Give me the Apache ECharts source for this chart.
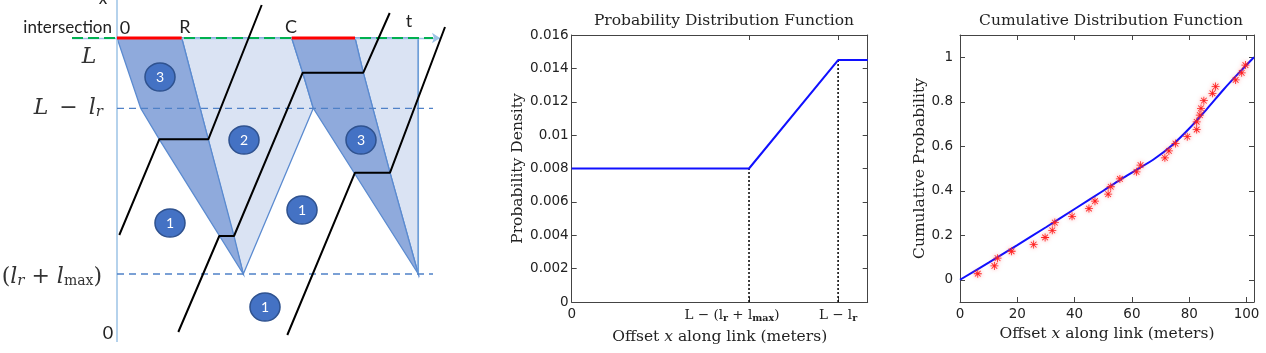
<!DOCTYPE html>
<html><head><meta charset="utf-8">
<script src="https://cdn.jsdelivr.net/npm/echarts@6/dist/echarts.min.js"></script>
<style>html,body{margin:0;background:#fff}#c{width:1266px;height:353px}</style>
</head><body><div id="c"></div>
<script>
// ---- left sketch (time t across, position along link up; sketch units) ----
const redPhases = [[0, 64.7], [174.7, 238]];
const lightZones = [
  [[64.7, 297], [174.7, 297], [185.7, 262.3], [196.3, 226.7], [126.3, 61]],
  [[238, 297], [301.3, 297], [301.3, 61], [273, 162.3], [246.3, 262.3]]
];
const darkZones = [
  [[0, 297], [64.7, 297], [91.3, 195.7], [42.3, 195.7], [23.7, 226.7]],
  [[42.3, 195.7], [91.3, 195.7], [117, 99], [126.3, 61]],
  [[174.7, 297], [238, 297], [246.3, 262.3], [185.7, 262.3]],
  [[185.7, 262.3], [246.3, 262.3], [273, 162.3], [301.3, 61], [196.3, 226.7]]
];
const vehicles = [
  [[2.3, 100], [42.3, 195.7], [91.3, 195.7], [144.7, 330]],
  [[61.3, 3], [102.3, 99], [117, 99], [185.7, 262.3], [246.3, 262.3], [272.7, 322]],
  [[170.3, 0], [238, 162.3], [273, 162.3], [328, 308]]
];
const zoneTags = [[43, 258, 3], [127, 195, 2], [244, 195, 3], [53, 112, 1], [185, 125, 1], [148, 28, 1]];
const levelL = 297, levelLlr = 226.7, levelQ = 61, tEnd = 301.3;

// ---- PDF ----
const pdfX = [0, 61.7, 92.7, 103];
const pdfY = [0.008, 0.008, 0.0145, 0.0145];
const pdfTicks = [0, 61.7, 92.7];

// ---- CDF ----
const fitX = [0, 10, 20, 30, 40, 50, 56, 62, 68, 74, 80, 86, 92, 97, 102.6];
const fitY = [0, 0.077, 0.156, 0.236, 0.318, 0.4, 0.45, 0.497, 0.545, 0.605, 0.68, 0.765, 0.855, 0.925, 1.0];
const obsX = [6.2, 12.0, 13.1, 18.0, 25.7, 29.7, 32.2, 33.1, 39.1, 45.0, 47.1, 51.7, 52.6, 55.8, 61.6,
  63.0, 71.5, 72.9, 75.2, 79.3, 82.6, 82.6, 83.7, 84.1, 85.1, 88.1, 89.2, 96.2, 98.3, 99.6];
const obsY = [0.027, 0.062, 0.097, 0.128, 0.158, 0.19, 0.222, 0.257, 0.285, 0.32, 0.353, 0.385, 0.418, 0.453, 0.485,
  0.515, 0.548, 0.579, 0.612, 0.643, 0.675, 0.71, 0.74, 0.77, 0.805, 0.838, 0.868, 0.898, 0.93, 0.965];
const cdfXTicks = [0, 20, 40, 60, 80, 100];
const cdfYTicks = [0, 0.2, 0.4, 0.6, 0.8, 1];

const zip = (a, b) => a.map((v, i) => [v, b[i]]);
const INK = '#222', AX = '#444';
const SERIF = 'DejaVu Serif', SANS = 'DejaVu Sans';

const chart = echarts.init(document.getElementById('c'), null, { renderer: 'canvas' });

const polySeries = (zones, fill, z) => ({
  type: 'custom', xAxisIndex: 0, yAxisIndex: 0, z, silent: true,
  data: zones.map((_, i) => [i]),
  renderItem: (params, api) => ({
    type: 'polygon',
    shape: { points: zones[params.dataIndex].map(p => api.coord(p)) },
    style: { fill, stroke: '#5b8bd0', lineWidth: 1.3 }
  })
});
const seg = (pts, color, width, type, z) => ({
  type: 'line', xAxisIndex: 0, yAxisIndex: 0, data: pts, showSymbol: false, symbol: 'none', z, silent: true,
  lineStyle: { color, width, type }
});

const subRich = {
  n: { fontFamily: SERIF, fontSize: 13.5, color: INK },
  e: { fontFamily: SERIF, fontSize: 13.5, color: INK, padding: [0, 34, 0, 0] },
  s: { fontFamily: SERIF, fontSize: 9.5, color: INK, fontWeight: 'bold', padding: [7, 0, 0, 0] },
  d: { fontFamily: SANS, fontSize: 13.5, color: INK }
};
const nameRich = {
  n: { fontFamily: SERIF, fontSize: 15.5, color: INK },
  i: { fontFamily: SERIF, fontSize: 15.5, fontStyle: 'italic', color: INK }
};
const xName = '{n|Offset }{i|x}{n| along link (meters)}';

const boxAxis = (grid, pos, min, max, ticks) => ({
  gridIndex: grid, type: 'value', position: pos, min, max,
  axisLine: { show: true, onZero: false, lineStyle: { color: AX, width: 1 } },
  axisTick: { show: true, inside: true, length: 5, customValues: ticks, lineStyle: { color: AX } },
  axisLabel: { show: false }, splitLine: { show: false }
});

const star = 'path://M9,0h2v20h-2zM0,9h20v2h-20zM2.2,3.6L3.6,2.2L17.8,16.4L16.4,17.8zM16.4,2.2L17.8,3.6L3.6,17.8L2.2,16.4z';

const txt = (x, y, text, font, align, extra) => ({
  type: 'text', x, y, silent: true, z: 100,
  style: Object.assign({ text, font, fill: INK, align: align || 'center', verticalAlign: 'middle' }, extra || {})
});
const latexRich = {
  i: { fontFamily: SERIF, fontStyle: 'italic', fontSize: 22, fill: '#333' },
  u: { fontFamily: SERIF, fontSize: 22, fill: '#333' },
  g: { fontFamily: SERIF, fontSize: 22, fill: '#333', width: 11 },
  s: { fontFamily: SERIF, fontStyle: 'italic', fontSize: 15, fill: '#333', padding: [9, 0, 0, 0] },
  m: { fontFamily: SERIF, fontSize: 14, fill: '#333', padding: [9, 0, 0, 0] }
};

chart.setOption({
  animation: false,
  backgroundColor: '#fff',
  grid: [
    { left: 0, top: 0, width: 450, height: 353 },
    { left: 571.7, top: 35, width: 296, height: 267 },
    { left: 960, top: 35, width: 294, height: 267 }
  ],
  xAxis: [
    { gridIndex: 0, type: 'value', min: -117, max: 333, show: false },
    Object.assign(boxAxis(1, 'bottom', 0, 103, pdfTicks), {
      axisLabel: {
        show: true, customValues: pdfTicks, margin: 5, rich: subRich,
        formatter: v => v < 1 ? '{d|0}' : v < 70 ? '{n|L − (l}{s|r}{n| + l}{s|max}{e|)}' : '{n|L − l}{s|r}'
      },
      name: xName, nameLocation: 'middle', nameGap: 20, nameTextStyle: { rich: nameRich }
    }),
    boxAxis(1, 'top', 0, 103, pdfTicks),
    Object.assign(boxAxis(2, 'bottom', 0, 102.6, cdfXTicks), {
      axisLabel: { show: true, customValues: cdfXTicks, margin: 5, fontFamily: SANS, fontSize: 13.5, color: INK },
      name: xName, nameLocation: 'middle', nameGap: 20, nameTextStyle: { rich: nameRich }
    }),
    boxAxis(2, 'top', 0, 102.6, cdfXTicks)
  ],
  yAxis: [
    { gridIndex: 0, type: 'value', min: -18, max: 335, show: false },
    Object.assign(boxAxis(1, 'left', 0, 0.016, null), {
      interval: 0.002,
      axisLabel: { show: true, margin: 3, fontFamily: SANS, fontSize: 13.5, color: INK },
      name: 'Probability Density', nameLocation: 'middle', nameGap: 44,
      nameTextStyle: { fontFamily: SERIF, fontSize: 15.5, color: INK }
    }),
    Object.assign(boxAxis(1, 'right', 0, 0.016, null), { interval: 0.002 }),
    Object.assign(boxAxis(2, 'left', -0.1, 1.1, cdfYTicks), {
      axisLabel: { show: true, customValues: cdfYTicks, margin: 7, fontFamily: SANS, fontSize: 13.5, color: INK },
      name: 'Cumulative Probability', nameLocation: 'middle', nameGap: 32,
      nameTextStyle: { fontFamily: SERIF, fontSize: 15.5, color: INK }
    }),
    boxAxis(2, 'right', -0.1, 1.1, cdfYTicks)
  ],
  graphic: [
    txt(724, 21, 'Probability Distribution Function', '15.5px "DejaVu Serif"'),
    txt(1111, 21, 'Cumulative Distribution Function', '15.5px "DejaVu Serif"'),
    txt(103, -1, 'x', '17px Lato'),
    txt(112, 28, 'intersection', '17px Lato', 'right'),
    txt(125, 28, '0', '18px Lato'),
    txt(185, 27, 'R', '18px Lato'),
    txt(291, 27, 'C', '18px Lato'),
    txt(409, 21, 't', '18px Lato'),
    txt(108, 333, '0', '18px Lato'),
    txt(89, 57, '{i|L}', '', 'center', { rich: latexRich }),
    txt(103, 108, '{i|L}{g| }{u|−}{g| }{i|l}{s|r}', '', 'right', { rich: latexRich }),
    txt(102, 277, '{u|(}{i|l}{s|r}{u| + }{i|l}{m|max}{u|)}', '', 'right', { rich: latexRich })
  ],
  series: [
    polySeries(lightZones, '#dae3f3', 1),
    polySeries(darkZones, '#8faadc', 2),
    seg([[0, -7], [0, 335]], '#9dc3e6', 1.5, 'solid', 3),
    seg([[tEnd, levelL], [tEnd, levelQ]], '#6f9fd8', 1.5, 'solid', 3),
    seg([[0, levelLlr], [316, levelLlr]], '#4f81c7', 1.3, [7, 5], 4),
    seg([[0, levelQ], [316, levelQ]], '#4f81c7', 1.3, [7, 5], 4),
    {
      type: 'lines', coordinateSystem: 'cartesian2d', xAxisIndex: 0, yAxisIndex: 0, z: 4, silent: true,
      symbol: ['none', 'arrow'], symbolSize: 8,
      lineStyle: { color: '#9dc3e6', width: 1.3, opacity: 1 },
      data: [{ coords: [[-45, levelL], [323, levelL]] }]
    },
    seg([[-45, levelL], [316, levelL]], '#00b050', 2, [11, 5], 5),
    ...redPhases.map(r => seg([[r[0], levelL], [r[1], levelL]], '#ff0000', 3, 'solid', 6)),
    ...vehicles.map(v => seg(v, '#000', 2, 'solid', 7)),
    {
      type: 'scatter', xAxisIndex: 0, yAxisIndex: 0, z: 8, silent: true,
      data: zoneTags, symbol: 'circle', symbolSize: [30, 28],
      itemStyle: { color: '#4472c4', borderColor: '#2f528f', borderWidth: 1.5, opacity: 1 },
      label: { show: true, position: 'inside', formatter: p => p.value[2], color: '#fff', fontSize: 14, fontFamily: 'Lato' }
    },
    // PDF
    {
      type: 'line', xAxisIndex: 1, yAxisIndex: 1, data: zip(pdfX, pdfY), showSymbol: false, symbol: 'none',
      lineStyle: { color: '#1010ff', width: 2 }, z: 5
    },
    ...pdfTicks.slice(1).map((x, i) => ({
      type: 'line', xAxisIndex: 1, yAxisIndex: 1, data: [[x, 0], [x, pdfY[i + 1]]], showSymbol: false, symbol: 'none',
      lineStyle: { color: '#000', width: 1.5, type: [2, 2] }, z: 4
    })),
    // CDF
    {
      type: 'line', xAxisIndex: 3, yAxisIndex: 3, data: zip(fitX, fitY), showSymbol: false, symbol: 'none',
      smooth: 0.3, lineStyle: { color: '#1010ff', width: 2 }, z: 4
    },
    {
      type: 'scatter', xAxisIndex: 3, yAxisIndex: 3, data: zip(obsX, obsY), symbol: star, symbolSize: 8, z: 5,
      itemStyle: { color: '#ff2020', shadowBlur: 4, shadowColor: 'rgba(255,60,60,0.6)', opacity: 1 }
    }
  ]
});
</script></body></html>
